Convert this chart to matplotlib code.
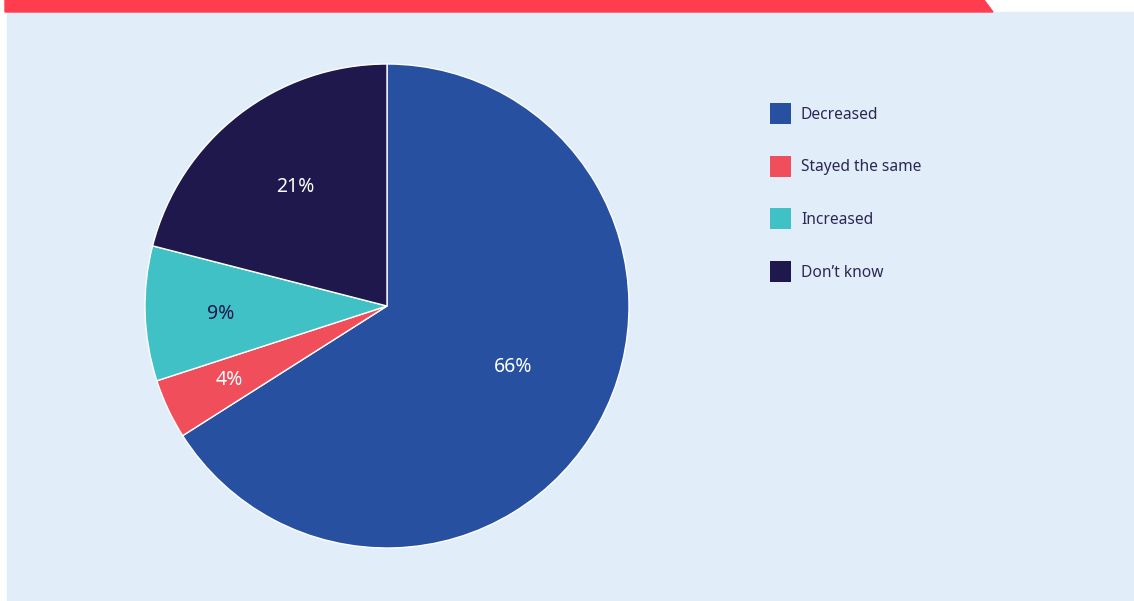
import numpy as np
import matplotlib.pyplot as plt
from matplotlib.patches import Patch, Polygon, Rectangle

# --------------------------------------------------
# Data
# --------------------------------------------------
labels = ["Decreased", "Stayed the same", "Increased", "Don\u2019t know"]
values = [66, 4, 9, 21]
colors = ["#2750A0", "#F04E5B", "#40C1C5", "#1E184C"]
text_colors = ["white", "white", "#1E184C", "white"]
label_dist = [0.58, 0.72, 0.69, 0.62]
label_turn = [3.0, 0.0, 1.0, 0.0]   # small angular nudge of label, degrees

plt.rcParams["font.family"] = ["Noto Sans", "DejaVu Sans"]

W, H = 1134, 601
fig = plt.figure(figsize=(W / 100, H / 100), dpi=100)
fig.patch.set_facecolor("white")

# background panel and red header strip
fig.patches.append(Rectangle((7 / W, 0), 1 - 7 / W, (H - 12) / H,
                             transform=fig.transFigure, color="#E1EDF9", zorder=-2))
fig.patches.append(Polygon([(5 / W, 1), (984 / W, 1), (993 / W, (H - 12) / H), (5 / W, (H - 12) / H)],
                           closed=True, transform=fig.transFigure, color="#FF3D4E", zorder=-2))

# --------------------------------------------------
# Pie
# --------------------------------------------------
cx, cy, r = 387, 306, 242
ax = fig.add_axes([(cx - r) / W, (H - cy - r) / H, 2 * r / W, 2 * r / H])
ax.set_zorder(2)
ax.set_facecolor("none")
wedges, texts, autotexts = ax.pie(
    values, colors=colors, startangle=90, counterclock=False,
    autopct="%d%%", pctdistance=0.6,
    wedgeprops=dict(edgecolor="white", linewidth=1),
    textprops=dict(fontsize=14),
)
for w, t, c, d, k in zip(wedges, autotexts, text_colors, label_dist, label_turn):
    mid = np.deg2rad((w.theta1 + w.theta2) / 2 + k)
    t.set_position((d * np.cos(mid), d * np.sin(mid)))
    t.set_color(c)
ax.set_xlim(-1, 1)
ax.set_ylim(-1, 1)
ax.axis("off")

# --------------------------------------------------
# Legend
# --------------------------------------------------
handles = [Patch(facecolor=c, edgecolor="none") for c in colors]
fig.legend(handles, labels, loc="upper left",
           bbox_to_anchor=(770 / W, (H - 103) / H), frameon=False,
           fontsize=11.2, labelcolor="#2C2856", borderpad=0, borderaxespad=0,
           handlelength=1.35, handleheight=1.71, handletextpad=0.64,
           labelspacing=2.03)

fig.savefig("out.png", dpi=100)
